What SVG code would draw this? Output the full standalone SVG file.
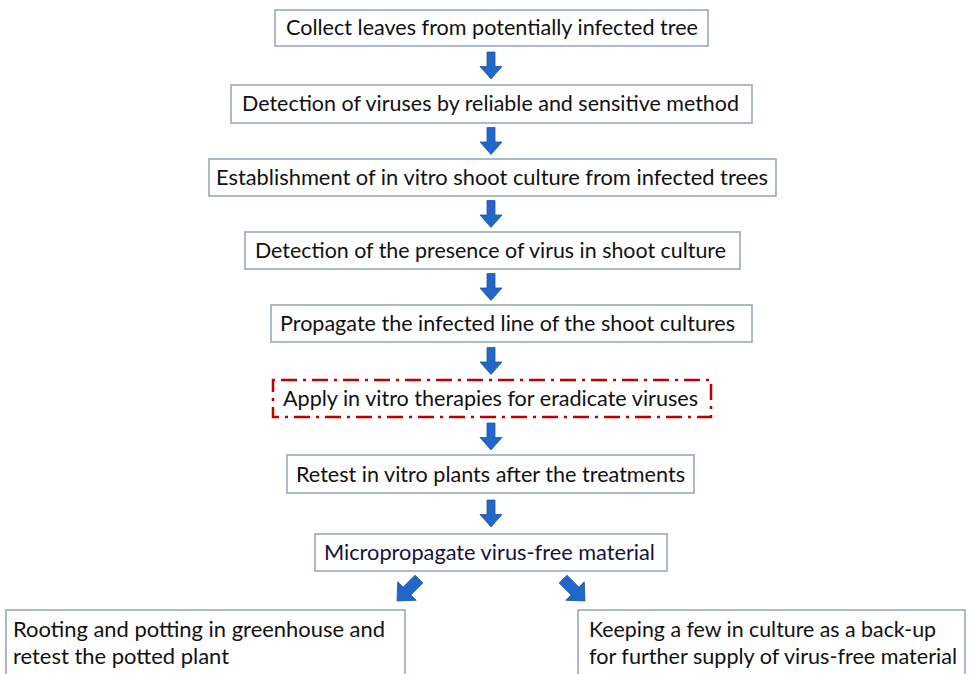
<svg xmlns="http://www.w3.org/2000/svg" width="971" height="674" viewBox="0 0 971 674">
<style>
.box{fill:#ffffff;stroke:#93a3b6;stroke-width:1.5}
.dbox{fill:#ffffff;stroke:#c00000;stroke-width:2.5;stroke-dasharray:16 6 3 6;stroke-dashoffset:23}
.t{font-family:Lato,"Open Sans","Liberation Sans",sans-serif;font-size:21px;fill:#111111}
.arr{fill:#2266c8;stroke:#1b55aa;stroke-width:0.8}
</style>
<defs>
<path id="arrow" d="M-4,-13.5 L4,-13.5 L4,1 L11,1 L0,13.5 L-11,1 L-4,1 Z"/>
<path id="darrow" d="M-5.5,-15.5 L5.5,-15.5 L5.5,1.5 L13,1.5 L0,15.5 L-13,1.5 L-5.5,1.5 Z"/>
</defs>
<rect width="971" height="674" fill="#ffffff"/>
<g id="connectors">
<use href="#arrow" class="arr" transform="translate(491,65.5)"/>
<use href="#arrow" class="arr" transform="translate(491,141)"/>
<use href="#arrow" class="arr" transform="translate(491,214)"/>
<use href="#arrow" class="arr" transform="translate(491,287)"/>
<use href="#arrow" class="arr" transform="translate(491,361)"/>
<use href="#arrow" class="arr" transform="translate(491,436.5)"/>
<use href="#arrow" class="arr" transform="translate(491,513.5)"/>
<use href="#darrow" class="arr" transform="translate(408,590) rotate(45)"/>
<use href="#darrow" class="arr" transform="translate(574,590) rotate(-45)"/>
</g>
<g id="n1"><rect class="box" x="275" y="10" width="433" height="36"/><text class="t" x="286" y="35" textLength="412" lengthAdjust="spacingAndGlyphs">Collect leaves from potentially infected tree</text></g>
<g id="n2"><rect class="box" x="231" y="85" width="521" height="38"/><text class="t" x="242" y="111" textLength="497" lengthAdjust="spacingAndGlyphs">Detection of viruses by reliable and sensitive method</text></g>
<g id="n3"><rect class="box" x="209" y="159" width="567" height="37"/><text class="t" x="216" y="184.5" textLength="552" lengthAdjust="spacingAndGlyphs">Establishment of in vitro shoot culture from infected trees</text></g>
<g id="n4"><rect class="box" x="245" y="232" width="495" height="37"/><text class="t" x="255" y="257.5" textLength="471" lengthAdjust="spacingAndGlyphs">Detection of the presence of virus in shoot culture</text></g>
<g id="n5"><rect class="box" x="271" y="305" width="481" height="37"/><text class="t" x="280" y="330.5" textLength="455" lengthAdjust="spacingAndGlyphs">Propagate the infected line of the shoot cultures</text></g>
<g id="n6"><rect class="dbox" x="273" y="380" width="438" height="37"/><text class="t" x="283" y="405.5" textLength="415" lengthAdjust="spacingAndGlyphs">Apply in vitro therapies for eradicate viruses</text></g>
<g id="n7"><rect class="box" x="287" y="455" width="407" height="38"/><text class="t" x="296" y="481.5" textLength="389" lengthAdjust="spacingAndGlyphs">Retest in vitro plants after the treatments</text></g>
<g id="n8"><rect class="box" x="315" y="534" width="352" height="37"/><text class="t" x="324" y="559.5" textLength="331" lengthAdjust="spacingAndGlyphs" style="fill:#14143a">Micropropagate virus-free material</text></g>
<g id="n9"><rect class="box" x="6" y="610" width="399" height="90"/><text class="t" x="13" y="637" textLength="372" lengthAdjust="spacingAndGlyphs">Rooting and potting in greenhouse and</text><text class="t" x="13" y="664" textLength="216" lengthAdjust="spacingAndGlyphs">retest the potted plant</text></g>
<g id="n10"><rect class="box" x="578" y="610" width="387" height="90"/><text class="t" x="589" y="637" textLength="347" lengthAdjust="spacingAndGlyphs">Keeping a few in culture as a back-up</text><text class="t" x="589" y="664" textLength="368" lengthAdjust="spacingAndGlyphs">for further supply of virus-free material</text></g>
</svg>
